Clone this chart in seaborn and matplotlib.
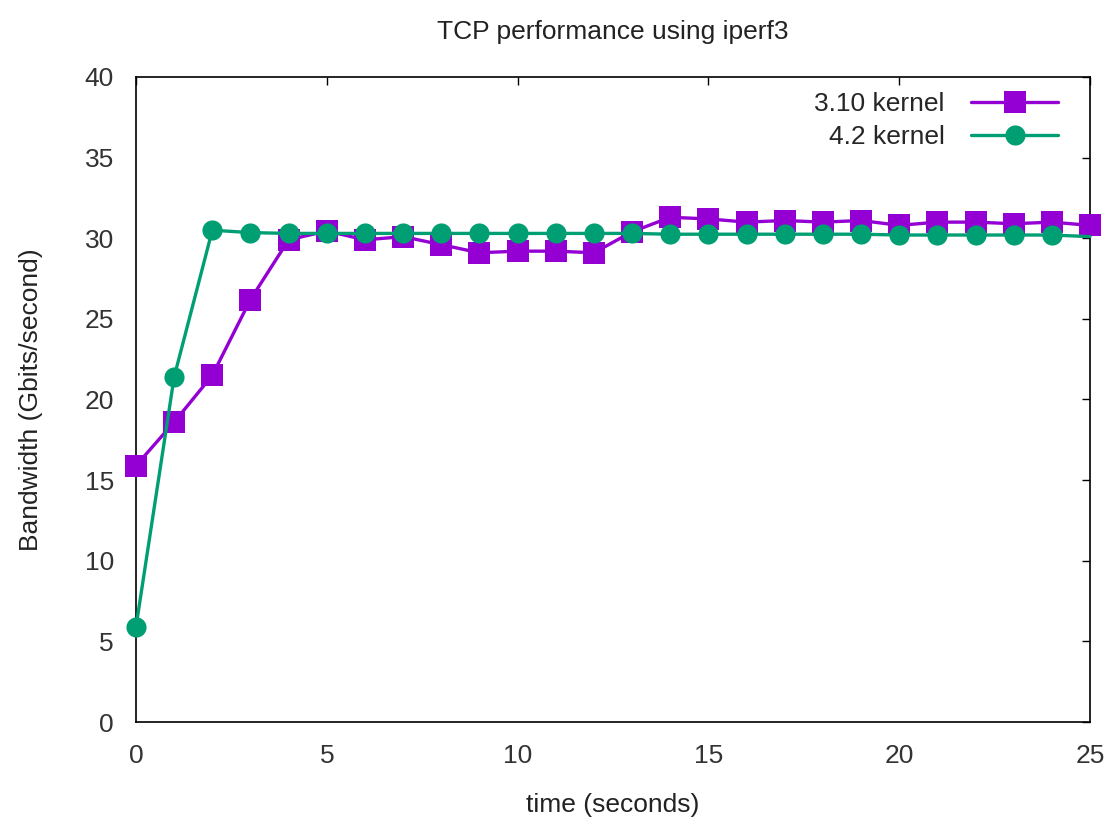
import matplotlib
matplotlib.use("Agg")
import matplotlib.pyplot as plt
import seaborn as sns
import pandas as pd

time_s = list(range(26))
k310 = [15.9, 18.6, 21.5, 26.2, 29.9, 30.45, 29.9, 30.1, 29.6, 29.1, 29.2, 29.2, 29.1,
        30.4, 31.3, 31.2, 31.0, 31.1, 31.0, 31.1, 30.8, 31.0, 31.0, 30.9, 31.0, 30.8]
k42 = [5.9, 21.4, 30.5, 30.35, 30.3, 30.3, 30.3, 30.3, 30.3, 30.3, 30.3, 30.3, 30.3,
       30.3, 30.25, 30.25, 30.25, 30.25, 30.25, 30.25, 30.2, 30.2, 30.2, 30.2, 30.2, 30.1]
labels = ["3.10 kernel", "4.2 kernel"]
colors = ["#9400D3", "#009E73"]

sns.set_style("white")
plt.rcParams['font.family'] = ['Liberation Sans', 'DejaVu Sans']

FS = 19
fig = plt.figure(figsize=(11.08, 8.22), dpi=100)
ax = fig.add_axes([136/1108, 1-722/822, (1090-136)/1108, (722-77)/822])

df1 = pd.DataFrame({"t": time_s, "bw": k310})
df2 = pd.DataFrame({"t": time_s, "bw": k42})
sns.lineplot(data=df1, x="t", y="bw", ax=ax, color=colors[0], lw=2.4, marker="s",
             markersize=16, markeredgewidth=0, label=labels[0], clip_on=False, zorder=3)
sns.lineplot(data=df2, x="t", y="bw", ax=ax, color=colors[1], lw=2.4, marker="o",
             markersize=14.5, markeredgewidth=0, label=labels[1], clip_on=False,
             markevery=list(range(25)), zorder=4)

ax.set_xlim(0, 25)
ax.set_ylim(0, 40)
ax.set_xticks(range(0, 26, 5))
ax.set_yticks(range(0, 41, 5))
ax.tick_params(direction="in", length=6, width=1, top=True, right=True,
               labelsize=FS, colors="#000000", labelcolor="#333333", pad=16)
for s in ax.spines.values():
    s.set_color("#000000")
    s.set_linewidth(1.2)
ax.set_xlabel("time (seconds)", fontsize=FS, color="#222222", labelpad=18)
ax.set_ylabel("Bandwidth (Gbits/second)", fontsize=FS, color="#222222", labelpad=30)
ax.set_title("TCP performance using iperf3", fontsize=FS, color="#222222", pad=27)

leg = ax.legend(loc="upper right", frameon=False, markerfirst=False, fontsize=FS,
                handlelength=3.3, handletextpad=1.0, borderaxespad=0.3, labelspacing=0.35,
                bbox_to_anchor=(0.986, 1.005))
fig.savefig("out.png", dpi=100)
